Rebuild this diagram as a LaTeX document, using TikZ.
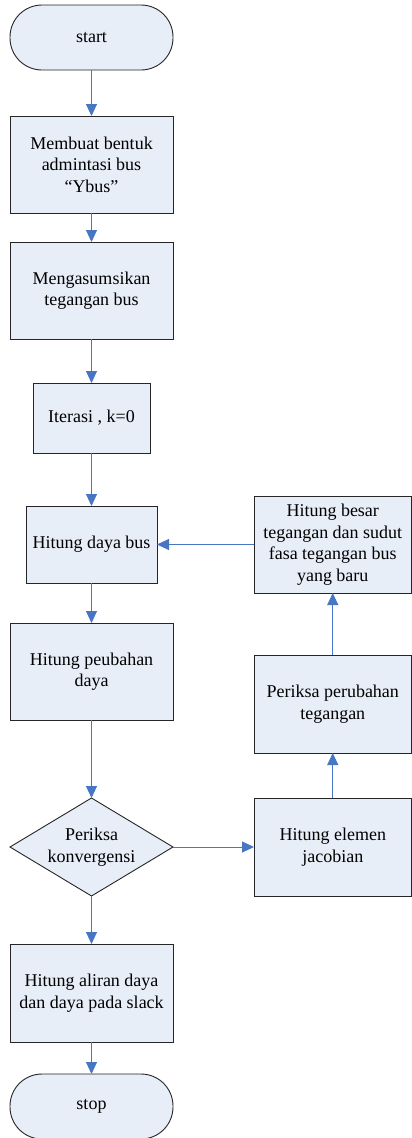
\documentclass[tikz,border=0pt]{standalone}
\usepackage{fontspec}
\setmainfont{Liberation Serif}
\usetikzlibrary{positioning, shapes.geometric, arrows.meta}

\definecolor{boxfill}{RGB}{232,238,248}
\definecolor{flowblue}{RGB}{70,118,196}

\tikzset{
  box/.style = {draw=black!85, fill=boxfill, line width=0.9pt, align=center, inner sep=2pt, outer sep=0pt},
  terminal/.style = {box, minimum width=163pt, minimum height=65pt, rounded corners=32pt},
  decision/.style = {box, diamond, aspect=1.66, inner sep=0pt, minimum width=163pt, minimum height=98pt},
  line/.style = {draw=flowblue, line width=0.9pt, -{Triangle[width=11pt,length=12pt]}}
}

\begin{document}
\begin{tikzpicture}[x=1pt, y=1pt, font=\fontsize{18}{21.5}\selectfont]
\useasboundingbox (0,0) rectangle (412,-1138);
% main column
\node[terminal] (S) at (91.5,-37.5) {start};
\node[box, minimum width=163pt, minimum height=97pt] (A) [below = 46pt of S] {Membuat bentuk\\admintasi bus\\“Ybus”};
\node[box, minimum width=163pt, minimum height=97pt] (B) [below = 29pt of A] {Mengasumsikan\\tegangan bus};
\node[box, minimum width=117pt, minimum height=70pt] (C) [below = 44pt of B] {Iterasi , k=0};
\node[box, minimum width=131pt, minimum height=77pt] (D) [below = 53pt of C] {Hitung daya bus};
\node[box, minimum width=163pt, minimum height=97pt] (E) [below = 40pt of D] {Hitung peubahan\\daya};
\node[decision] (F) [below = 78pt of E] {Periksa\\konvergensi};
\node[box, minimum width=163pt, minimum height=98pt] (G) [below = 48pt of F] {Hitung aliran daya\\dan daya pada slack};
\node[terminal] (T) [below = 32pt of G] {stop};
% loop column
\node[box, minimum width=157.5pt, minimum height=98pt] (J) [right = 81pt of F] {Hitung elemen\\jacobian};
\node[box, minimum width=157.5pt, minimum height=98pt] (P) [above = 45pt of J] {Periksa perubahan\\tegangan};
\node[box, minimum width=157.5pt, minimum height=97pt] (R) [above = 62pt of P] {Hitung besar\\tegangan dan sudut\\fasa tegangan bus\\yang baru};

\draw[line] (S) -- (A);
\draw[line] (A) -- (B);
\draw[line] (B) -- (C);
\draw[line] (C) -- (D);
\draw[line] (D) -- (E);
\draw[line] (E) -- (F);
\draw[line] (F) -- (G);
\draw[line] (G) -- (T);
\draw[line] (F) -- (J);
\draw[line] (J) -- (P);
\draw[line] (P) -- (R);
\draw[line] (R) -- (D);
\end{tikzpicture}
\end{document}
